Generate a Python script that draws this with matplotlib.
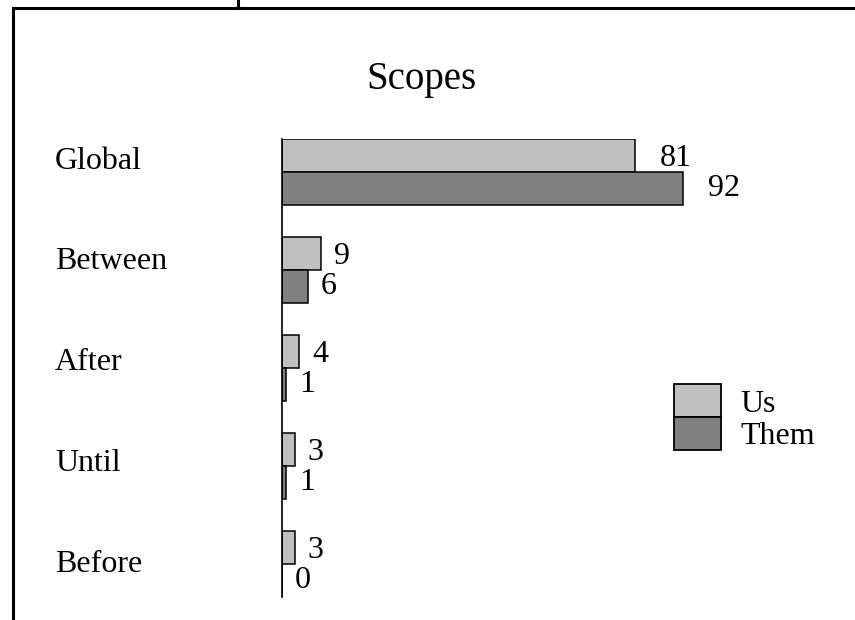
import numpy as np
import matplotlib.pyplot as plt
import matplotlib.transforms as mtransforms
from matplotlib.patches import Rectangle
from matplotlib.lines import Line2D

# Data
scopes = ["Global", "Between", "After", "Until", "Before"]
us = [81, 9, 4, 3, 3]
them = [92, 6, 1, 1, 0]

plt.rcParams["font.family"] = ["Liberation Serif", "DejaVu Serif"]

us_color = "#c0c0c0"
them_color = "#808080"
h = 0.335  # bar height in group units

fig = plt.figure(figsize=(8.55, 6.2), dpi=100)
ax = fig.add_axes([282 / 855, 23 / 620, 436 / 855, 458 / 620])

pos = np.arange(len(scopes))
ax.barh(pos - h / 2, us, height=h, color=us_color, edgecolor="black", linewidth=1.1)
ax.barh(pos + h / 2, them, height=h, color=them_color, edgecolor="black", linewidth=1.1)

ax.set_xlim(0, 100)
ax.set_ylim(len(scopes) - 1 + h, -h)
for s in ["top", "right", "bottom"]:
    ax.spines[s].set_visible(False)
ax.spines["left"].set_linewidth(1.2)
ax.set_xticks([])
ax.set_yticks([])

# value labels
for y, v in zip(pos - h / 2, us):
    off = 18 if v > 50 else 9
    ax.annotate(str(v), (v, y), xytext=(off, -2), textcoords="offset points",
                va="center", ha="left", fontsize=23, annotation_clip=False)
for y, v in zip(pos + h / 2, them):
    off = 18 if v > 50 else 9
    ax.annotate(str(v), (v, y), xytext=(off, 0), textcoords="offset points",
                va="center", ha="left", fontsize=23, annotation_clip=False)

# category labels, left aligned (spaced slightly wider than the bar groups)
blend = mtransforms.blended_transform_factory(fig.transFigure, ax.transData)
for y, name in zip(pos * 1.028 - 0.11, scopes):
    ax.text(55 / 855, y, name, transform=blend, ha="left", va="center",
            fontsize=23, clip_on=False)

fig.text(421 / 855, 1 - 80 / 620, "Scopes", ha="center", va="center", fontsize=28)

# legend drawn by hand
lx, lw, lh = 674 / 855, 47 / 855, 33 / 620
ly_us = 1 - 417 / 620
fig.patches.append(Rectangle((lx, ly_us), lw, lh, transform=fig.transFigure,
                             facecolor=us_color, edgecolor="black", linewidth=1.3))
fig.patches.append(Rectangle((lx, ly_us - lh), lw, lh, transform=fig.transFigure,
                             facecolor=them_color, edgecolor="black", linewidth=1.3))
fig.text(740 / 855, 1 - 404 / 620, "Us", ha="left", va="center", fontsize=23)
fig.text(740 / 855, 1 - 437 / 620, "Them", ha="left", va="center", fontsize=23)

# page border lines
fig.add_artist(Line2D([13 / 855, 1], [1 - 8 / 620, 1 - 8 / 620], color="black",
                      linewidth=2.2, transform=fig.transFigure))
fig.add_artist(Line2D([13 / 855, 13 / 855], [0, 1 - 8 / 620], color="black",
                      linewidth=2.2, transform=fig.transFigure))
fig.add_artist(Line2D([238 / 855, 238 / 855], [1 - 8 / 620, 1], color="black",
                      linewidth=2.2, transform=fig.transFigure))

fig.savefig("out.png", dpi=100, facecolor="white")
